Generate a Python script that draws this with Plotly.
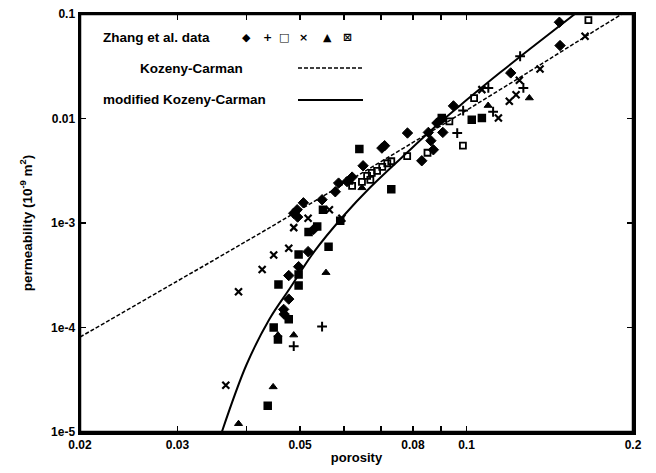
import plotly.graph_objects as go
import math

# ---------------- data ----------------
dia_x = [0.0517, 0.0497, 0.0477, 0.0477, 0.0467, 0.0468, 0.0487, 0.0494, 0.0507, 0.0548, 0.0495, 0.0529,
         0.0703, 0.0711, 0.0782, 0.0853, 0.0906, 0.0862, 0.0947, 0.0884, 0.0899, 0.0871, 0.083, 0.065,
         0.0621, 0.0608, 0.0587, 0.0579, 0.1202, 0.1472, 0.1476]
dia_y = [5.32e-4, 3.82e-4, 3.14e-4, 1.87e-4, 1.49e-4, 1.34e-4, 1.24e-3, 1.34e-3, 1.56e-3, 1.67e-3, 1.14e-3, 8.68e-4,
         5.21e-3, 5.49e-3, 7.26e-3, 7.36e-3, 7.36e-3, 6.13e-3, 1.32e-2, 9.05e-3, 9.74e-3, 5.02e-3, 3.94e-3, 3.53e-3,
         2.75e-3, 2.49e-3, 2.41e-3, 1.99e-3, 2.73e-2, 8.34e-2, 4.99e-2]

plus_x = [0.0548, 0.0487, 0.0962, 0.0986, 0.125, 0.1095, 0.1267, 0.1117]
plus_y = [1.02e-4, 6.63e-5, 7.26e-3, 1.19e-2, 3.94e-2, 1.96e-2, 1.96e-2, 1.16e-2]

sq_x = [0.1032, 0.1672, 0.1661, 0.0931, 0.0985, 0.085, 0.0781, 0.0731, 0.0719, 0.0704, 0.0689, 0.0674,
        0.0661, 0.067, 0.0647, 0.0621, 0.0614]
sq_y = [1.57e-2, 1.01e-1, 8.72e-2, 9.38e-3, 5.49e-3, 4.70e-3, 4.37e-3, 3.90e-3, 3.73e-3, 3.45e-3, 3.16e-3, 3.02e-3,
        2.83e-3, 2.59e-3, 2.48e-3, 2.27e-3, 2.53e-3]

cross_x = [0.0448, 0.0427, 0.0387, 0.0367, 0.0477, 0.0517, 0.0487, 0.0565, 0.0595, 0.1066, 0.1142, 0.1195,
           0.1229, 0.1246, 0.1358, 0.1638]
cross_y = [4.94e-4, 3.59e-4, 2.20e-4, 2.80e-5, 5.73e-4, 1.11e-3, 9.03e-4, 1.34e-3, 1.11e-3, 1.89e-2, 1.01e-2, 1.46e-2,
           1.69e-2, 2.32e-2, 2.98e-2, 6.13e-2]

tri_x = [0.0557, 0.0456, 0.0487, 0.0447, 0.0387, 0.0647, 0.1299, 0.1094]
tri_y = [3.35e-4, 8.46e-5, 8.46e-5, 2.70e-5, 1.20e-5, 2.17e-3, 1.57e-2, 1.33e-2]

star_x = [0.0497, 0.0497, 0.0457, 0.0497, 0.0477, 0.0448, 0.0456, 0.0437, 0.064, 0.0731, 0.0902, 0.1022,
          0.1066, 0.0518, 0.0537, 0.055, 0.0591, 0.0563]
star_y = [5.00e-4, 3.22e-4, 2.58e-4, 2.52e-4, 1.20e-4, 1.00e-4, 7.69e-5, 1.78e-5, 5.10e-3, 2.10e-3, 1.01e-2, 9.74e-3,
          1.01e-2, 8.22e-4, 9.24e-4, 1.34e-3, 1.05e-3, 5.94e-4]

# model curves
kc_x = [0.02, 0.03, 0.04, 0.05, 0.06, 0.08, 0.10, 0.13, 0.16, 0.191]
kc_y = [8.1e-5, 2.78e-4, 6.7e-4, 1.34e-3, 2.37e-3, 5.9e-3, 1.2e-2, 2.82e-2, 5.6e-2, 1.0e-1]

mkc_x = [0.0361, 0.040, 0.044, 0.048, 0.053, 0.060, 0.067, 0.078, 0.090, 0.100, 0.115, 0.130, 0.157]
mkc_y = [1.0e-5, 4.4e-5, 1.2e-4, 2.4e-4, 5.3e-4, 1.18e-3, 2.2e-3, 4.7e-3, 9.4e-3, 1.5e-2, 2.75e-2, 4.6e-2, 1.0e-1]

# axis ticks
x_tickvals = [0.02, 0.03, 0.05, 0.08, 0.1, 0.2]
x_ticktext = ["0.02", "0.03", "0.05", "0.08", "0.1", "0.2"]
x_minorvals = [0.04, 0.06, 0.07, 0.09]
y_tickvals = [1e-5, 1e-4, 1e-3, 1e-2, 1e-1]
y_ticktext = ["1e-5", "1e-4", "1e-3", "0.01", "0.1"]

legend_symbols = ["◆", "+", "□", "×", "▲", "⊠"]

# ---------------- figure ----------------
FONT = "Liberation Sans, Arial, Helvetica, sans-serif"
fig = go.Figure()

fig.add_trace(go.Scatter(x=kc_x, y=kc_y, mode="lines", line=dict(color="black", width=1.5, dash="4px,2px"),
                         line_shape="spline", showlegend=False, hoverinfo="skip"))
fig.add_trace(go.Scatter(x=mkc_x, y=mkc_y, mode="lines", line=dict(color="black", width=2),
                         line_shape="spline", showlegend=False, hoverinfo="skip"))

def pts(x, y, symbol, size, lw=1.5):
    return go.Scatter(x=x, y=y, mode="markers", showlegend=False, cliponaxis=False, hoverinfo="skip",
                      marker=dict(symbol=symbol, size=size, color="black",
                                  line=dict(color="black", width=lw)))

fig.add_trace(pts(dia_x, dia_y, "diamond", 8, lw=1))
fig.add_trace(pts(plus_x, plus_y, "cross-thin", 7, lw=2))
fig.add_trace(pts(sq_x, sq_y, "square-open", 6, lw=1.8))
fig.add_trace(pts(cross_x, cross_y, "x-thin", 7, lw=2.2))
fig.add_trace(pts(tri_x, tri_y, "triangle-up", 7, lw=1))
fig.add_trace(pts(star_x, star_y, "square-x-open", 6, lw=2.5))

# legend (drawn as text + line samples, like the gnuplot key)
L, R, T, B = 80, 23, 14, 41
W, H = 656 - L - R, 473 - T - B
def px(x): return (x - L) / W
def py(y): return (T + H - y) / H

tfont = dict(family=FONT, size=13.5, color="black", weight="bold")
fig.add_annotation(x=px(101), y=py(37), xref="paper", yref="paper", text="Zhang et al. data",
                   showarrow=False, xanchor="left", yanchor="middle", font=tfont)
fig.add_annotation(x=px(138), y=py(68), xref="paper", yref="paper", text="Kozeny-Carman",
                   showarrow=False, xanchor="left", yanchor="middle", font=tfont)
fig.add_annotation(x=px(101), y=py(100), xref="paper", yref="paper", text="modified Kozeny-Carman",
                   showarrow=False, xanchor="left", yanchor="middle", font=tfont)
sym_px = [246, 267, 284, 303, 327, 347]
for s, xp in zip(legend_symbols, sym_px):
    fig.add_annotation(x=px(xp), y=py(37), xref="paper", yref="paper", text=s, showarrow=False,
                       xanchor="center", yanchor="middle",
                       font=dict(family="DejaVu Sans", size=11, color="black", weight="bold"))
fig.add_shape(type="line", xref="paper", yref="paper", x0=px(298), x1=px(363), y0=py(68), y1=py(68),
              line=dict(color="black", width=1.5, dash="4px,2px"))
fig.add_shape(type="line", xref="paper", yref="paper", x0=px(298), x1=px(363), y0=py(100), y1=py(100),
              line=dict(color="black", width=2))
# plot frame (domain-referenced rectangle)
fig.add_shape(type="rect", xref="x domain", yref="y domain", x0=0, x1=1, y0=0, y1=1,
              line=dict(color="black", width=2.5), fillcolor="rgba(0,0,0,0)", layer="above")

tick_style = dict(ticks="inside", ticklen=6, tickwidth=1.5, tickcolor="black",
                  showgrid=False, zeroline=False, showline=True, linecolor="black", linewidth=2.5)
lab_font = dict(family=FONT, size=12, color="black", weight="bold")
minor_x = dict(tickmode="array", tickvals=x_minorvals, ticks="inside", ticklen=6,
               tickwidth=1.5, tickcolor="black", showgrid=False)

fig.update_layout(
    xaxis=dict(type="log", range=[math.log10(0.02), math.log10(0.2)],
               tickmode="array", tickvals=x_tickvals, ticktext=x_ticktext, tickfont=lab_font,
               minor=minor_x, mirror=True,
               title=dict(text="porosity", standoff=2,
                          font=dict(family=FONT, size=13, color="black", weight="bold")),
               **tick_style),
    yaxis=dict(type="log", range=[-5, -1],
               tickmode="array", tickvals=y_tickvals, ticktext=y_ticktext, tickfont=lab_font, mirror=True,
               title=dict(text="permeability (10<sup>-9</sup> m<sup>2</sup>)", standoff=16,
                          font=dict(family=FONT, size=13.5, color="black", weight="bold")),
               **tick_style),
    # top and right axes carrying the mirrored ticks of the frame
    xaxis2=dict(type="log", range=[math.log10(0.02), math.log10(0.2)], overlaying="x", side="top",
                anchor="y", tickmode="array", tickvals=x_tickvals, showticklabels=False,
                minor=minor_x, **tick_style),
    yaxis2=dict(type="log", range=[-5, -1], overlaying="y", side="right", anchor="x",
                tickmode="array", tickvals=y_tickvals, showticklabels=False, **tick_style),
    width=656, height=473, margin=dict(l=L, r=R, t=T, b=B, autoexpand=False),
    paper_bgcolor="white", plot_bgcolor="white", showlegend=False, hovermode=False)

# an empty trace so the top/right axes are drawn
fig.add_trace(go.Scatter(x=[], y=[], xaxis="x2", yaxis="y2", showlegend=False, hoverinfo="skip"))

fig.write_html("out.html", config={"displayModeBar": False, "staticPlot": True})

# remove the browser's default page margin so the figure sits at the window origin
with open("out.html", "r", encoding="utf-8") as f:
    html = f.read()
html = html.replace("<head>", "<head><style>html,body{margin:0;padding:0;overflow:hidden;}</style>", 1)
with open("out.html", "w", encoding="utf-8") as f:
    f.write(html)
